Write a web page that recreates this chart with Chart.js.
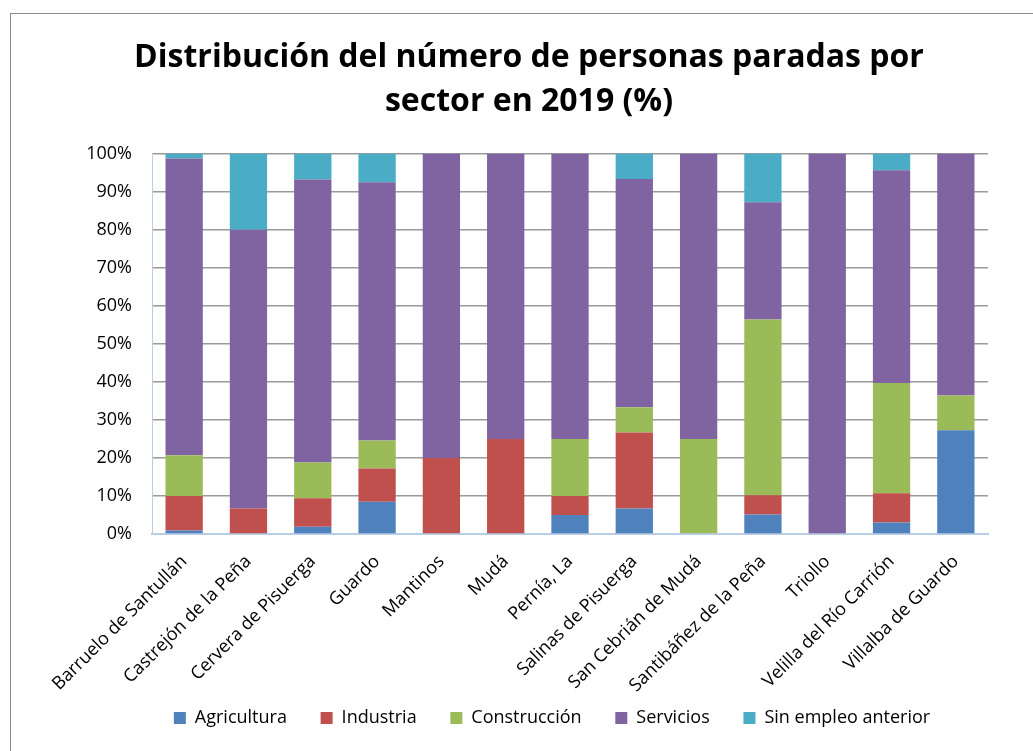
<!DOCTYPE html>
<html>
<head>
<meta charset="utf-8">
<script src="https://cdn.jsdelivr.net/npm/chart.js@4/dist/chart.umd.min.js"></script>
<style>
  body { margin: 0; background: #fff; }
  #wrap { position: relative; width: 1033px; height: 751px; overflow: hidden; }
  #frame { position: absolute; left: 10px; top: 13px; width: 1040px; height: 760px; border: 1px solid #8c8c8c; }
  canvas { position: absolute; left: 0; top: 0; }
</style>
</head>
<body>
<div id="wrap">
  <div id="frame"></div>
  <canvas id="chart" width="1033" height="751"></canvas>
</div>
<script>
const municipios = [
  'Barruelo de Santullán', 'Castrejón de la Peña', 'Cervera de Pisuerga', 'Guardo',
  'Mantinos', 'Mudá', 'Pernía, La', 'Salinas de Pisuerga', 'San Cebrián de Mudá',
  'Santibáñez de la Peña', 'Triollo', 'Velilla del Río Carrión', 'Villalba de Guardo'
];

// % sobre el total de parados de cada municipio
const agricultura  = [0.9, 0,    1.9, 8.5, 0,  0,  5, 6.7,  0,  5.1, 0,   3.0, 27.3];
const industria    = [9.1, 6.7,  7.5, 8.7, 20, 25, 5, 20.0, 0,  5.1, 0,   7.7, 0];
const construccion = [10.7, 0,   9.4, 7.4, 0,  0,  15, 6.6, 25, 46.2, 0,  29.0, 9.1];
const servicios    = [78.0, 73.3, 74.4, 67.9, 80, 75, 75, 60.0, 75, 30.8, 100, 55.9, 63.6];
const sinEmpleo    = [1.3, 20.0, 6.8, 7.5, 0,  0,  0, 6.7,  0,  12.8, 0,  4.4, 0];

const yTicks = [0, 10, 20, 30, 40, 50, 60, 70, 80, 90, 100];

const font = '"Open Sans", "Noto Sans", sans-serif';

function serie(label, data, color) {
  return {
    label: label,
    data: data,
    backgroundColor: color,
    borderColor: color,
    borderWidth: 0,
    barPercentage: 0.58,
    categoryPercentage: 1
  };
}

// la leyenda de Excel no va centrada sobre el área de trazado, la corro un poco
const moveLegend = {
  id: 'moveLegend',
  afterLayout(chart) {
    chart.legend.left += 23;
    chart.legend.right += 23;
  }
};

new Chart(document.getElementById('chart'), {
  type: 'bar',
  data: {
    labels: municipios,
    datasets: [
      serie('Agricultura', agricultura, '#4f81bd'),
      serie('Industria', industria, '#c0504d'),
      serie('Construcción', construccion, '#9bbb59'),
      serie('Servicios', servicios, '#8064a2'),
      serie('Sin empleo anterior', sinEmpleo, '#4bacc6')
    ]
  },
  plugins: [moveLegend],
  options: {
    responsive: false,
    animation: false,
    layout: { padding: { left: 70, right: 45, top: 0, bottom: 14 } },
    plugins: {
      title: {
        display: true,
        text: ['Distribución del número de personas paradas por', 'sector en 2019 (%)'],
        color: '#000',
        font: { family: font, size: 32, weight: 'bold', lineHeight: 1.4 },
        padding: { top: 35, bottom: 29 }
      },
      legend: {
        position: 'bottom',
        labels: {
          color: '#000',
          font: { family: font, size: 18 },
          boxWidth: 12,
          boxHeight: 12,
          padding: 15,
          // más separación horizontal entre entradas sin subir el padding vertical
          generateLabels: (chart) => {
            const items = Chart.defaults.plugins.legend.labels.generateLabels(chart);
            items.forEach((it, i) => { if (i < items.length - 1) it.text += '    '; });
            return items;
          }
        }
      },
      tooltip: { enabled: false }
    },
    scales: {
      x: {
        stacked: true,
        grid: { display: false },
        border: { color: '#b9cde5', width: 2 },
        ticks: {
          color: '#000',
          font: { family: font, size: 18 },
          minRotation: 45,
          maxRotation: 45,
          padding: 9
        },
        afterFit: (scale) => { scale.height = 160; }
      },
      y: {
        stacked: true,
        min: 0,
        max: 100,
        afterBuildTicks: (scale) => { scale.ticks = yTicks.map(v => ({ value: v })); },
        grid: { color: '#9a9a9a', lineWidth: 1.5, drawTicks: false },
        border: { color: '#b9cde5', width: 1 },
        ticks: {
          color: '#000',
          font: { family: font, size: 18 },
          padding: 20,
          callback: (v) => v + '%'
        },
        afterFit: (scale) => { scale.width = 82; }
      }
    }
  }
});
</script>
</body>
</html>
